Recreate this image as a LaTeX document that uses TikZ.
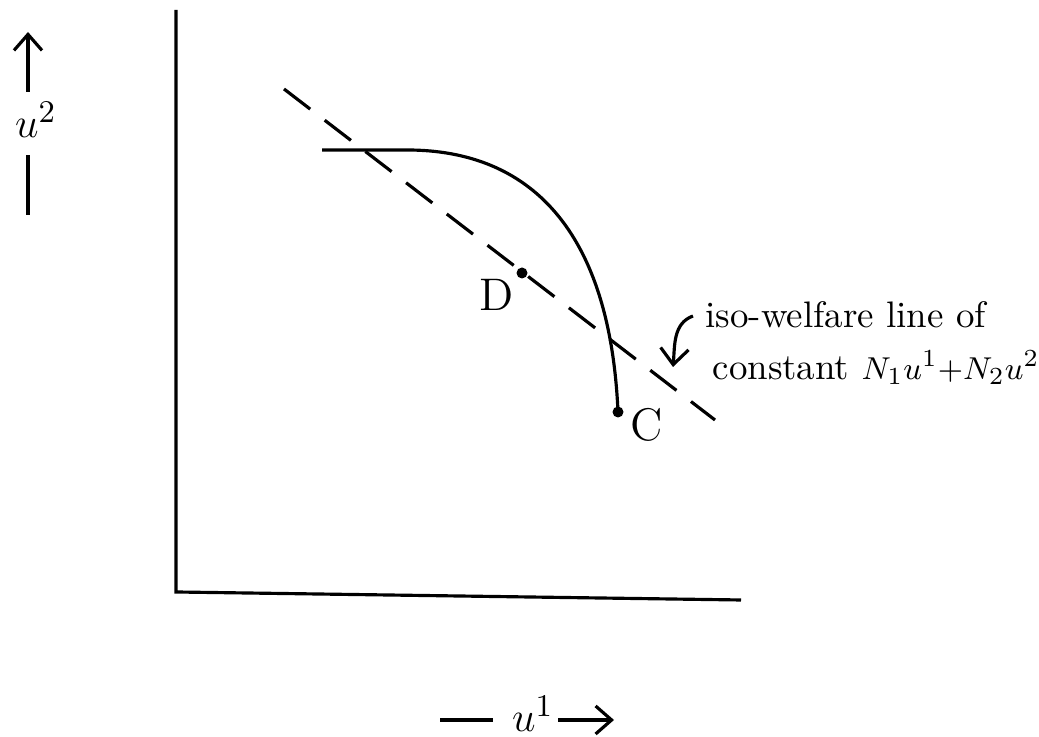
\documentclass[tikz,border=0pt]{standalone}
\usetikzlibrary{arrows.meta}

\tikzset{
  axisline/.style={line width=0.9pt},
  frontier/.style={line width=0.9pt},
  welfare/.style={line width=0.9pt, dash pattern=on 9.4pt off 5.2pt},
  lbl/.style={font=\fontsize{13}{15}\selectfont},
  note/.style={font=\fontsize{10.5}{12}\selectfont, inner sep=0pt},
  barb/.style={line width=0.9pt, -{Straight Barb[length=1.6mm, width=2.8mm]}},
  dot/.style={circle, fill=black, inner sep=0pt, minimum size=1.1mm}
}

\begin{document}
\begin{tikzpicture}

\useasboundingbox (0,0) rectangle (10.39,7.37);

%--- AXES ---
\draw[axisline] (1.76,7.27) -- (1.76,1.45) -- (7.41,1.37);

% vertical axis label u^2
\node[lbl] (u2) at (0.36,6.17) {$u^2$};
\coordinate (u2top) at (0.28,7.05);
\coordinate (u2bot) at (0.28,5.22);
\draw[barb] (u2top |- u2.north) ++(0,-0.02) -- (u2top);
\draw[axisline] (u2bot |- u2.south) ++(0,-0.05) -- (u2bot);

% horizontal axis label u^1
\node[lbl] (u1) at (5.33,0.23) {$u^1$};
\coordinate (u1left) at (4.40,0.17);
\coordinate (u1right) at (6.14,0.17);
\draw[axisline] (u1left) -- (4.93,0.17);
\draw[barb] (5.58,0.17) -- (u1right);

%--- ISO-WELFARE LINE ---
\draw[welfare] (2.84,6.48) -- (7.15,3.17);

%--- UTILITY FRONTIER ---
\draw[frontier] (3.22,5.87) -- (4.07,5.87)
  .. controls (5.30,5.87) and (6.10,5.07) .. (6.18,3.25);

% points D and C
\node[dot] (ptD) at (5.22,4.64) {};
\node[lbl] (labD) at (4.97,4.42) {D};
\node[dot] (ptC) at (6.18,3.25) {};
\node[lbl] (labC) at (6.47,3.12) {C};

%--- ANNOTATION ---
\node[note, anchor=base west] (iso) at (7.05,4.09) {iso-welfare line of};
\node[note, anchor=base west] (const) at (7.12,3.57)
  {constant {\fontsize{9.5}{11}\selectfont$N_1u^1{+}N_2u^2$}};
\coordinate (isotip) at (6.73,3.70);
\draw[barb] ([xshift=-0.12cm, yshift=0.12cm]iso.base west) to[out=200, in=85] (isotip);

\end{tikzpicture}
\end{document}
